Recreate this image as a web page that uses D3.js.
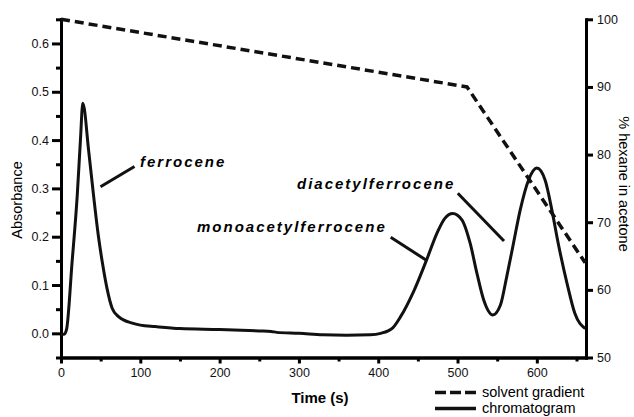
<!DOCTYPE html>
<html>
<head>
<meta charset="utf-8">
<script src="https://cdn.jsdelivr.net/npm/d3@7"></script>
<style>
    body { margin: 0; background: #fff; }
    svg { display: block; font-family: "Liberation Sans", Arial, sans-serif; }
</style>
</head>
<body>
<svg id="chart_svg" width="634" height="417"></svg>
<script>
// クロマトグラム（時間[s], 吸光度）
var chromTime = [0, 4, 7, 14, 20.5, 24.5, 27.5, 35, 41, 47, 52, 58, 64.5, 73, 90, 100, 119, 150,
    200, 250, 265, 272, 300, 330, 360, 390, 403, 418, 428, 445, 461, 474, 484, 494, 505.5, 516,
    524.5, 533, 544.5, 554, 562, 570.5, 579, 589.5, 600, 610.5, 619, 627, 638, 648, 661];
var chromAbs = [-0.002, -0.002, 0.008, 0.148, 0.286, 0.400, 0.476, 0.376, 0.286, 0.203, 0.148,
    0.093, 0.052, 0.034, 0.021, 0.017, 0.014, 0.010, 0.008, 0.005, 0.004, 0.002, 0.0, -0.003,
    -0.004, -0.003, 0.0, 0.011, 0.034, 0.088, 0.152, 0.207, 0.238, 0.248, 0.235, 0.186, 0.124,
    0.069, 0.038, 0.058, 0.117, 0.186, 0.255, 0.317, 0.342, 0.317, 0.255, 0.186, 0.104, 0.041, 0.010];

// 溶媒グラジエント（時間[s], % hexane）
var gradTime = [0, 512, 661];
var gradPct = [100, 90, 64];

// 目盛り
var xMajorTicks = [0, 100, 200, 300, 400, 500, 600];
var xMinorTicks = [50, 150, 250, 350, 450, 550, 650];
var yMajorTicks = [0.0, 0.1, 0.2, 0.3, 0.4, 0.5, 0.6];
var yMinorTicks = [-0.05, 0.05, 0.15, 0.25, 0.35, 0.45, 0.55, 0.65];
var y2Ticks = [50, 60, 70, 80, 90, 100];

// ピーク名
var peakLabels = ['ferrocene', 'monoacetylferrocene', 'diacetylferrocene'];
var legendLabels = ['solvent gradient', 'chromatogram'];

drawChart();

function drawChart(){
    // - - - - 設定 - - - -
    var left = 61, right = 586, top = 19.3, bottom = 357.5;
    var lineW = 3;
    // - - - - - - - - - -
    var svg = d3.select('#chart_svg');

    var x = d3.scaleLinear().domain([0, 662]).range([left, right]);
    var y = d3.scaleLinear().domain([-0.05, 0.65]).range([bottom, top]);
    var y2 = d3.scaleLinear().domain([50, 100]).range([bottom, top]);

    // 軸（小目盛り → 大目盛り）
    var gx = svg.append('g').attr('transform', 'translate(0,' + bottom + ')');
    gx.append('g').call(d3.axisBottom(x).tickValues(xMinorTicks).tickSize(4).tickSizeOuter(0).tickFormat(''));
    gx.append('g').call(d3.axisBottom(x).tickValues(xMajorTicks).tickSize(6).tickSizeOuter(0).tickPadding(5));

    var gy = svg.append('g').attr('transform', 'translate(' + left + ',0)');
    gy.append('g').call(d3.axisLeft(y).tickValues(yMinorTicks).tickSize(5).tickSizeOuter(0).tickFormat(''));
    gy.append('g').call(d3.axisLeft(y).tickValues(yMajorTicks).tickSize(9).tickSizeOuter(0).tickPadding(3).tickFormat(d3.format('.1f')));

    var gy2 = svg.append('g').attr('transform', 'translate(' + right + ',0)');
    gy2.call(d3.axisRight(y2).tickValues(y2Ticks).tickSize(7).tickSizeOuter(0).tickPadding(4));

    svg.selectAll('.domain').attr('stroke-width', lineW).attr('stroke-linecap', 'square');
    svg.selectAll('.tick line').attr('stroke-width', lineW);
    svg.selectAll('.tick text').attr('font-size', 12.5).attr('fill', '#111');

    // 軸ラベル
    svg.append('text')
        .attr('transform', 'translate(22,200) rotate(-90)')
        .attr('text-anchor', 'middle').attr('font-size', 14.5)
        .text('Absorbance');
    svg.append('text')
        .attr('transform', 'translate(619,184) rotate(90)')
        .attr('text-anchor', 'middle').attr('font-size', 14.5)
        .text('% hexane in acetone');
    svg.append('text')
        .attr('x', 320).attr('y', 403)
        .attr('text-anchor', 'middle').attr('font-size', 15).attr('font-weight', 'bold')
        .text('Time (s)');

    // グラジエント（破線）
    var gradData = gradTime.map((t, i) => [t, gradPct[i]]);
    svg.append('path')
        .datum(gradData)
        .attr('fill', 'none').attr('stroke', '#111')
        .attr('stroke-width', 3.5).attr('stroke-dasharray', '9,5')
        .attr('d', d3.line().x(d => x(d[0])).y(d => y2(d[1])));

    // クロマトグラム
    var chromData = chromTime.map((t, i) => [t, chromAbs[i]]);
    svg.append('path')
        .datum(chromData)
        .attr('fill', 'none').attr('stroke', '#111')
        .attr('stroke-width', lineW).attr('stroke-linejoin', 'round')
        .attr('d', d3.line().curve(d3.curveMonotoneX).x(d => x(d[0])).y(d => y(d[1])));

    // ピーク名と引き出し線
    var labelPos = [[140, 167], [197, 232], [297, 189]];
    var leaders = [[[100.5, 186.7], [134.5, 166.5]], [[390.7, 237.3], [426, 260]], [[457.8, 193.3], [504, 241]]];
    peakLabels.forEach((name, i) => {
        svg.append('text')
            .attr('x', labelPos[i][0]).attr('y', labelPos[i][1])
            .attr('font-size', 15).attr('font-weight', 'bold').attr('font-style', 'italic')
            .attr('letter-spacing', 2)
            .text(name);
        svg.append('line')
            .attr('x1', leaders[i][0][0]).attr('y1', leaders[i][0][1])
            .attr('x2', leaders[i][1][0]).attr('y2', leaders[i][1][1])
            .attr('stroke', '#111').attr('stroke-width', lineW);
    });

    // 凡例（下端で切れないよう少し上げる）
    var legY = [392.5, 408.5];
    legendLabels.forEach((name, i) => {
        svg.append('line')
            .attr('x1', 435).attr('x2', 476).attr('y1', legY[i]).attr('y2', legY[i])
            .attr('stroke', '#111').attr('stroke-width', 3.5)
            .attr('stroke-dasharray', i == 0 ? '11,4' : null);
        svg.append('text')
            .attr('x', 482).attr('y', legY[i] + 4.5)
            .attr('font-size', 14.5)
            .text(name);
    });
}
</script>
</body>
</html>
